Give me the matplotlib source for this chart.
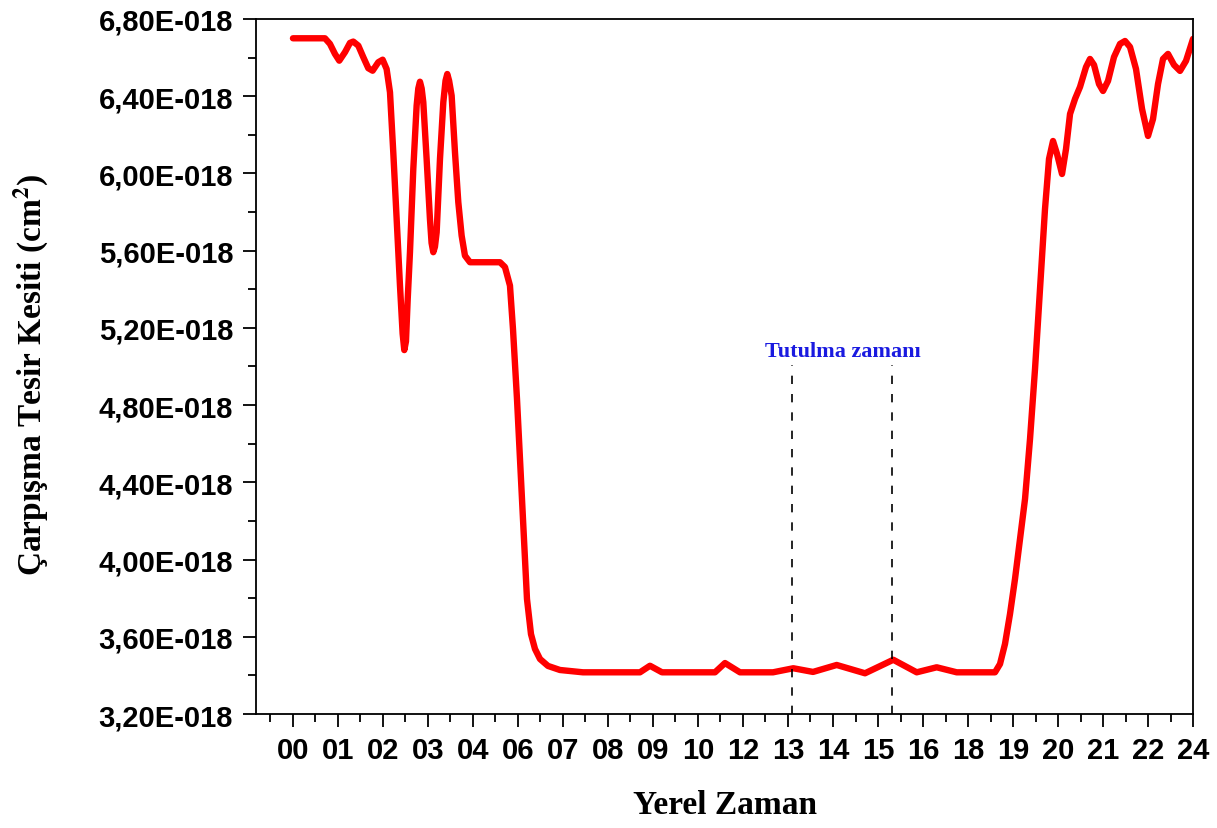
import matplotlib
matplotlib.use("Agg")
import matplotlib.pyplot as plt
from matplotlib.ticker import FixedLocator, FuncFormatter

# x positions are tick-label slots (0..20), y values in units of 1E-018 cm^2
hour_labels = ["00", "01", "02", "03", "04", "06", "07", "08", "09", "10", "12",
               "13", "14", "15", "16", "18", "19", "20", "21", "22", "24"]

slot = [0.0, 0.711, 0.822, 0.933, 1.029, 1.156, 1.267, 1.34, 1.452, 1.563, 1.674,
        1.77, 1.896, 1.993, 2.081, 2.156, 2.229, 2.304, 2.378, 2.437, 2.474, 2.511,
        2.55, 2.6, 2.674, 2.748, 2.785, 2.822, 2.86, 2.896, 2.97, 3.044, 3.08,
        3.118, 3.155, 3.193, 3.267, 3.341, 3.39, 3.429, 3.47, 3.526, 3.6, 3.674,
        3.748, 3.822, 3.933, 4.6, 4.711, 4.822, 4.889, 4.978, 5.089, 5.2, 5.289,
        5.378, 5.489, 5.667, 5.933, 6.444, 7.711, 7.933, 8.2, 9.378, 9.6, 9.933,
        10.667, 11.118, 11.556, 12.082, 12.711, 13.34, 13.86, 14.304, 14.749, 15.6,
        15.711, 15.822, 15.933, 16.044, 16.156, 16.267, 16.378, 16.489, 16.6,
        16.711, 16.8, 16.889, 16.978, 17.089, 17.178, 17.267, 17.378, 17.489,
        17.622, 17.711, 17.8, 17.911, 18.0, 18.111, 18.244, 18.378, 18.489, 18.6,
        18.733, 18.867, 19.0, 19.111, 19.222, 19.333, 19.444, 19.578, 19.711,
        19.844, 20.0]

cross_section = [6.70, 6.70, 6.671, 6.619, 6.584, 6.628, 6.676, 6.683, 6.662, 6.602,
                 6.545, 6.532, 6.576, 6.589, 6.541, 6.42, 6.11, 5.764, 5.419, 5.17,
                 5.085, 5.13, 5.35, 5.592, 6.023, 6.351, 6.44, 6.475, 6.44, 6.369,
                 6.075, 5.764, 5.64, 5.592, 5.62, 5.695, 6.075, 6.369, 6.48, 6.515,
                 6.48, 6.403, 6.11, 5.851, 5.678, 5.574, 5.54, 5.54, 5.515, 5.419,
                 5.194, 4.832, 4.314, 3.796, 3.614, 3.537, 3.485, 3.449, 3.428, 3.416,
                 3.416, 3.45, 3.416, 3.416, 3.464, 3.416, 3.416, 3.437, 3.418, 3.454,
                 3.411, 3.481, 3.416, 3.442, 3.416, 3.416, 3.459, 3.563, 3.718, 3.899,
                 4.107, 4.314, 4.625, 4.987, 5.402, 5.816, 6.075, 6.168, 6.101, 5.997,
                 6.127, 6.308, 6.386, 6.448, 6.551, 6.593, 6.562, 6.463, 6.427, 6.479,
                 6.603, 6.671, 6.686, 6.655, 6.541, 6.334, 6.194, 6.282, 6.463, 6.593,
                 6.619, 6.562, 6.531, 6.583, 6.697]

eclipse_slots = [11.08, 13.32]
eclipse_top = 5.01

plt.rcParams["mathtext.fontset"] = "stix"

fig = plt.figure(figsize=(12.17, 8.29), dpi=100)
ax = fig.add_axes([0.2104, 0.1375, 0.7699, 0.8384])

ax.plot(slot, cross_section, color="#ff0000", linewidth=4.6, solid_capstyle="round",
        solid_joinstyle="round")

# eclipse interval markers
ax.vlines(eclipse_slots, 3.2, eclipse_top, colors="black", linewidth=1.2,
          linestyles=(0, (5, 6)))
ax.text(sum(eclipse_slots) / 2 + 0.03, 5.08, "Tutulma zamanı", color="#1a1ae0",
        fontsize=16, fontweight="bold", family="Liberation Serif",
        ha="center", va="center")

ax.set_xlim(-0.82, 20)
ax.set_ylim(3.2, 6.8)

ax.xaxis.set_major_locator(FixedLocator(range(len(hour_labels))))
ax.xaxis.set_minor_locator(FixedLocator([i - 0.5 for i in range(len(hour_labels))]))
ax.set_xticklabels(hour_labels)

ax.yaxis.set_major_locator(FixedLocator([3.2 + 0.4 * i for i in range(10)]))
ax.yaxis.set_minor_locator(FixedLocator([3.4 + 0.4 * i for i in range(9)]))
ax.yaxis.set_major_formatter(FuncFormatter(
    lambda v, p: ("%.2f" % v).replace(".", ",") + "E-018"))

ax.tick_params(axis="both", which="major", direction="out", length=9.5, width=1.3,
               labelsize=21)
ax.tick_params(axis="both", which="minor", direction="out", length=5.5, width=1.3)
ax.tick_params(axis="y", which="major", pad=7)
ax.tick_params(axis="x", which="major", pad=6)
for lab in ax.get_xticklabels() + ax.get_yticklabels():
    lab.set_family("Liberation Sans")
    lab.set_fontweight("bold")

for sp in ax.spines.values():
    sp.set_linewidth(1.3)

ax.set_xlabel("Yerel Zaman", fontsize=24, fontweight="bold", family="Liberation Serif")
ax.xaxis.set_label_coords(0.5, -0.1086)
ax.set_ylabel(r"Çarpışma Tesir Kesiti (cm$^{\mathbf{2}}$)", fontsize=24,
              fontweight="bold", family="Liberation Serif")
ax.yaxis.set_label_coords(-0.219, 0.49)

plt.savefig("out.png", dpi=100)
